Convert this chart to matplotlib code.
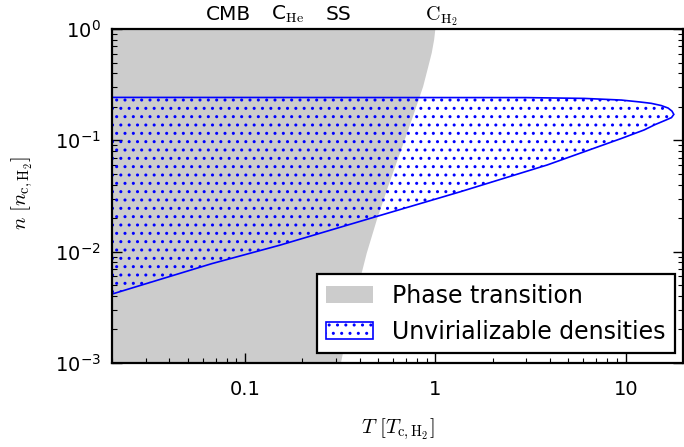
import matplotlib
matplotlib.use("Agg")
import matplotlib.pyplot as plt
from matplotlib.transforms import blended_transform_factory

# Liquid–gas phase transition boundary of H2 (density, temperature in critical units)
phase_n = [1.0, 0.80, 0.609, 0.45, 0.303, 0.152, 0.0769, 0.0383, 0.0192,
           0.0097, 0.00484, 0.00243, 0.00123, 0.001]
phase_T = [1.0, 0.985, 0.957, 0.915, 0.862, 0.751, 0.652, 0.564, 0.492,
           0.436, 0.393, 0.356, 0.327, 0.319]

# Closed boundary of the unvirializable density region:
# flat upper edge, rounded high-temperature tip, then the lower edge back to low T
unvir_T = [0.019, 3.0, 6.06, 9.5, 11.9, 13.6, 15.35, 16.7, 17.5, 17.9,
           17.4, 16.1, 14.3, 12.5, 9.5, 3.86, 1.35, 0.454, 0.153, 0.0668, 0.019]
unvir_n = [0.243, 0.242, 0.238, 0.230, 0.221, 0.215, 0.2055, 0.195, 0.183, 0.171,
           0.160, 0.151, 0.1387, 0.124, 0.104, 0.060, 0.0345, 0.0199, 0.01146,
           0.0078, 0.00405]

# Reference temperatures marked along the top edge
ref_labels = ["CMB", r"C$_{\rm He}$", "SS", r"$\rm C_{H_2}$"]
ref_T = [0.0814, 0.168, 0.308, 1.08]

xlim = (0.02, 20.0)
ylim = (1e-3, 1.0)

fig = plt.figure(figsize=(6.84, 4.47), dpi=100)
ax = fig.add_axes([112 / 684, 84 / 447, 571 / 684, 334 / 447])
ax.set_xscale("log")
ax.set_yscale("log")

ax.fill_betweenx(phase_n, 1e-3, phase_T, facecolor="0.8", edgecolor="none",
                 label="Phase transition", zorder=1)
ax.fill(unvir_T, unvir_n, facecolor="none", edgecolor="#0000ff", hatch="..",
        linewidth=1.2, label="Unvirializable densities", zorder=2)

ax.set_xlim(*xlim)
ax.set_ylim(*ylim)

ax.set_xticks([0.1, 1, 10])
ax.set_xticklabels(["0.1", "1", "10"])

ax.tick_params(which="both", direction="in", top=False, right=True,
               labelsize=14)
ax.tick_params(which="major", length=7, width=1.0)
ax.tick_params(which="minor", length=3.5, width=0.8)
ax.tick_params(axis="x", which="both", pad=12)
ax.tick_params(axis="y", which="both", pad=8)
for sp in ax.spines.values():
    sp.set_linewidth(1.6)

ax.set_xlabel(r"$T\ [T_{\rm c,H_2}]$", fontsize=15, math_fontfamily="cm")
ax.set_ylabel(r"$n\ [n_{\rm c,H_2}]$", fontsize=15, math_fontfamily="cm")
ax.xaxis.set_label_coords(0.5, -0.16)
ax.yaxis.set_label_coords(-0.135, 0.51)

trans = blended_transform_factory(ax.transData, ax.transAxes)
for lab, t in zip(ref_labels, ref_T):
    ax.text(t, 1.027, lab, transform=trans, ha="center", va="baseline",
            fontsize=14.5, math_fontfamily="cm")

leg = ax.legend(loc="lower right", bbox_to_anchor=(0.986, 0.030),
                borderaxespad=0, fontsize=17, fancybox=False, framealpha=1)
leg.get_frame().set_edgecolor("black")
leg.get_frame().set_linewidth(1.6)

fig.savefig("out.png", dpi=100)
